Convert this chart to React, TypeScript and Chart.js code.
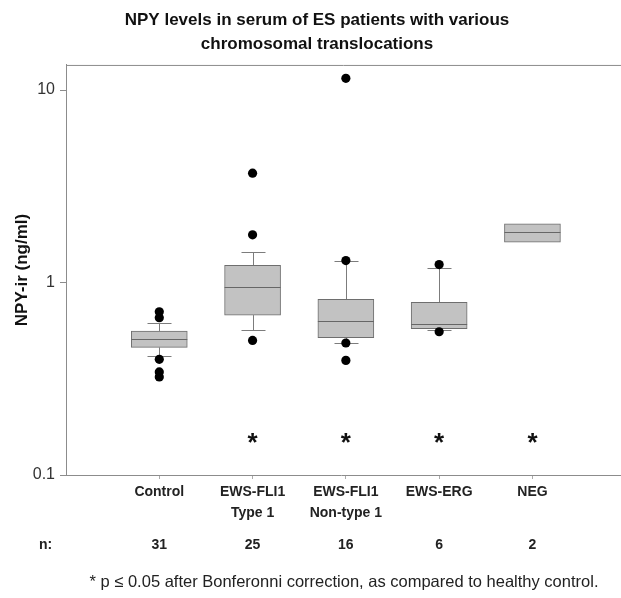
import React, { useEffect, useRef } from 'react';
import { Chart, registerables } from 'chart.js';

Chart.register(...registerables);

const FONT = '"Liberation Sans", Arial, sans-serif';

const categories: string[][] = [['Control'], ['EWS-FLI1', 'Type 1'], ['EWS-FLI1', 'Non-type 1'], ['EWS-ERG'], ['NEG']];
const groupPositions = [1, 2, 3, 4, 5];
const counts = [31, 25, 16, 6, 2];

const q1Values = [0.46, 0.677, 0.517, 0.575, 1.62];
const medianValues = [0.511, 0.945, 0.63, 0.606, 1.82];
const q3Values = [0.56, 1.23, 0.817, 0.79, 2.02];
const whiskerLow: (number | null)[] = [0.415, 0.564, 0.485, 0.564, null];
const whiskerHigh: (number | null)[] = [0.618, 1.44, 1.3, 1.19, null];

const outliersControl = [0.704, 0.656, 0.399, 0.343, 0.323];
const outliersType1 = [3.7, 1.77, 0.5];
const outliersNonType1 = [11.5, 1.3, 0.485, 0.394];
const outliersErg = [1.24, 0.555];
const outliersNeg: number[] = [];

const significant = [false, true, true, true, true];
const significanceLevel = 0.155;

const yTicks = [0.1, 1, 10];

const titleLines = ['NPY levels in serum of ES patients with various', 'chromosomal translocations'];
const yTitle = 'NPY-ir (ng/ml)';
const footnote = '* p \u2264 0.05 after Bonferonni correction, as compared to healthy control.';

const allOutliers = [outliersControl, outliersType1, outliersNonType1, outliersErg, outliersNeg];

const boxPlugin = {
  id: 'boxExtras',
  beforeDatasetsDraw(chart: any) {
    const { ctx, scales } = chart;
    const x = scales.x;
    const y = scales.y;
    ctx.save();
    ctx.strokeStyle = '#7c7c7c';
    ctx.lineWidth = 1;
    groupPositions.forEach((p, i) => {
      const xp = Math.round(x.getPixelForValue(p)) + 0.5;
      const cap = 12;
      const hi = whiskerHigh[i];
      const lo = whiskerLow[i];
      if (hi != null) {
        const y0 = y.getPixelForValue(q3Values[i]);
        const y1 = Math.round(y.getPixelForValue(hi)) + 0.5;
        ctx.beginPath();
        ctx.moveTo(xp, y0);
        ctx.lineTo(xp, y1);
        ctx.moveTo(xp - cap, y1);
        ctx.lineTo(xp + cap, y1);
        ctx.stroke();
      }
      if (lo != null) {
        const y0 = y.getPixelForValue(q1Values[i]);
        const y1 = Math.round(y.getPixelForValue(lo)) + 0.5;
        ctx.beginPath();
        ctx.moveTo(xp, y0);
        ctx.lineTo(xp, y1);
        ctx.moveTo(xp - cap, y1);
        ctx.lineTo(xp + cap, y1);
        ctx.stroke();
      }
    });
    ctx.restore();
  },
  afterDatasetDraw(chart: any, args: any) {
    if (args.index !== 1) return;
    const { ctx, scales } = chart;
    const y = scales.y;
    const meta = chart.getDatasetMeta(1);
    ctx.save();
    ctx.strokeStyle = '#666666';
    ctx.lineWidth = 1;
    meta.data.forEach((bar: any, i: number) => {
      const ym = Math.round(y.getPixelForValue(medianValues[i])) + 0.5;
      ctx.beginPath();
      ctx.moveTo(bar.x - bar.width / 2, ym);
      ctx.lineTo(bar.x + bar.width / 2, ym);
      ctx.stroke();
    });
    ctx.restore();
  },
  afterDraw(chart: any) {
    const { ctx, scales, chartArea, width } = chart;
    const x = scales.x;
    const y = scales.y;
    ctx.save();
    // frame lines run on to the right edge of the figure
    ctx.strokeStyle = '#8c8c8c';
    ctx.lineWidth = 1;
    ctx.beginPath();
    ctx.moveTo(chartArea.left, chartArea.top + 0.5);
    ctx.lineTo(width, chartArea.top + 0.5);
    ctx.moveTo(chartArea.right - 1, Math.round(chartArea.bottom) + 0.5);
    ctx.lineTo(width, Math.round(chartArea.bottom) + 0.5);
    ctx.stroke();

    // significance asterisks
    ctx.fillStyle = '#111';
    ctx.font = `bold 26px ${FONT}`;
    ctx.textAlign = 'center';
    ctx.textBaseline = 'middle';
    groupPositions.forEach((p, i) => {
      if (!significant[i]) return;
      ctx.fillText('*', x.getPixelForValue(p), y.getPixelForValue(significanceLevel) + 5);
    });

    // counts row
    const nRowY = 545;
    ctx.font = `bold 14px ${FONT}`;
    ctx.fillStyle = '#222';
    groupPositions.forEach((p, i) => {
      ctx.fillText(String(counts[i]), x.getPixelForValue(p), nRowY);
    });
    ctx.textAlign = 'left';
    ctx.fillText('n:', 39, nRowY);

    // footnote
    ctx.font = `16.5px ${FONT}`;
    ctx.textAlign = 'center';
    ctx.fillText(footnote, 344, 582);
    ctx.restore();
  },
};

export default function App() {
  const canvasRef = useRef<HTMLCanvasElement | null>(null);

  useEffect(() => {
    document.body.style.margin = '0';
    const canvas = canvasRef.current;
    if (!canvas) return;

    const scatterData = allOutliers.flatMap((arr, i) => arr.map((v) => ({ x: groupPositions[i], y: v })));
    const boxData = groupPositions.map((p, i) => ({ x: p, y: [q1Values[i], q3Values[i]] }));

    const chart = new Chart(canvas, {
      type: 'bar',
      data: {
        datasets: [
          {
            type: 'scatter',
            label: 'Outliers',
            data: scatterData,
            backgroundColor: '#000',
            borderColor: '#000',
            pointRadius: 4.6,
            pointBorderWidth: 0,
          } as any,
          {
            type: 'bar',
            label: 'Box',
            data: boxData as any,
            backgroundColor: '#c2c2c2',
            borderColor: '#6e6e6e',
            borderWidth: 1,
            borderSkipped: false,
            barThickness: 56,
          } as any,
        ],
      },
      options: {
        responsive: false,
        animation: false,
        devicePixelRatio: 1,
        layout: { padding: { left: 9, right: -4, top: 0, bottom: 0 } },
        plugins: {
          legend: { display: false },
          tooltip: { enabled: false },
          title: {
            display: true,
            text: titleLines,
            color: '#111',
            font: { family: FONT, size: 17, weight: 'bold', lineHeight: 1.41 },
            padding: { top: 8, bottom: 9 },
          },
        },
        scales: {
          x: {
            type: 'linear',
            min: 0,
            max: 5.9,
            offset: false,
            afterBuildTicks: (s: any) => {
              s.ticks = groupPositions.map((v) => ({ value: v }));
            },
            afterFit: (s: any) => {
              s.height = 123;
            },
            ticks: {
              autoSkip: false,
              maxRotation: 0,
              padding: 3,
              color: '#222',
              font: { family: FONT, size: 14, weight: 'bold', lineHeight: 1.5 },
              callback: (v: any) => {
                const idx = groupPositions.indexOf(Number(v));
                return idx >= 0 ? categories[idx] : '';
              },
            },
            grid: { offset: false, drawOnChartArea: false, drawTicks: true, tickLength: 4, color: '#aaaaaa' },
            border: { display: true, color: '#8c8c8c' },
          },
          y: {
            type: 'logarithmic',
            min: 0.1,
            max: 13.5,
            afterBuildTicks: (s: any) => {
              s.ticks = yTicks.map((v) => ({ value: v }));
            },
            afterFit: (s: any) => {
              s.width = 57;
            },
            ticks: {
              padding: 5,
              color: '#333',
              font: { family: FONT, size: 16 },
              callback: (v: any) => String(v),
            },
            grid: { drawOnChartArea: false, drawTicks: true, tickLength: 6, color: '#8c8c8c' },
            border: { display: true, color: '#8c8c8c' },
            title: {
              display: true,
              text: yTitle,
              color: '#111',
              font: { family: FONT, size: 17, weight: 'bold' },
              padding: { top: 3, bottom: 0 },
            },
          },
        },
      },
      plugins: [boxPlugin],
    });

    return () => {
      chart.destroy();
    };
  }, []);

  return (
    <div style={{ width: 621, height: 598 }}>
      <canvas ref={canvasRef} width={621} height={598} />
    </div>
  );
}
